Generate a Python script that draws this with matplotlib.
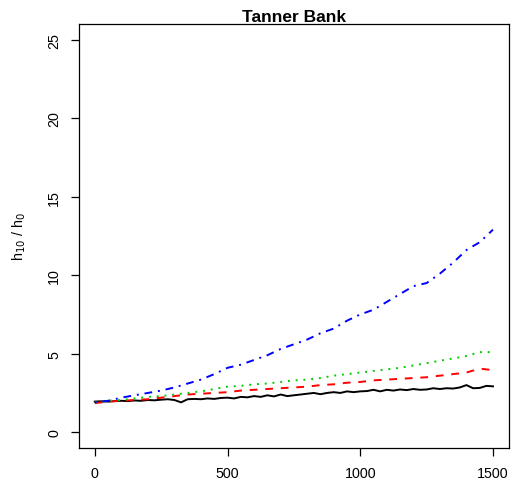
import matplotlib.pyplot as plt

plt.rcParams['font.family'] = ['Liberation Sans', 'DejaVu Sans']

# steps (every 50) for the dashed / dotted / dot-dash series
x50 = list(range(0, 1501, 50))
x25 = list(range(0, 1501, 25))

black = [1.95, 1.97, 1.95, 1.98, 2.0, 1.98, 2.02, 2.0, 2.05, 2.03, 2.07, 2.1, 2.05, 1.9,
         2.1, 2.12, 2.1, 2.15, 2.12, 2.18, 2.2, 2.15, 2.25, 2.22, 2.3, 2.25, 2.35, 2.28,
         2.4, 2.3, 2.35, 2.4, 2.45, 2.5, 2.42, 2.5, 2.55, 2.5, 2.6, 2.55, 2.6, 2.62, 2.7,
         2.6, 2.7, 2.65, 2.72, 2.68, 2.75, 2.7, 2.72, 2.8, 2.75, 2.8, 2.78, 2.85, 3.0,
         2.8, 2.82, 2.95, 2.92]
red = [1.85, 1.95, 2.0, 2.05, 2.1, 2.2, 2.3, 2.4, 2.45, 2.5, 2.55, 2.65, 2.7, 2.75, 2.8,
       2.85, 2.9, 3.0, 3.05, 3.15, 3.2, 3.3, 3.35, 3.4, 3.45, 3.5, 3.6, 3.7, 3.8, 4.05, 3.95]
green = [1.9, 2.0, 2.05, 2.15, 2.25, 2.3, 2.4, 2.5, 2.6, 2.75, 2.9, 2.95, 3.05, 3.1, 3.2,
         3.3, 3.35, 3.45, 3.6, 3.7, 3.8, 3.9, 4.0, 4.1, 4.25, 4.4, 4.55, 4.7, 4.85, 5.1, 5.1]
blue = [1.9, 2.0, 2.2, 2.35, 2.5, 2.65, 2.85, 3.1, 3.35, 3.7, 4.1, 4.3, 4.6, 4.9, 5.3,
        5.6, 5.9, 6.3, 6.6, 7.1, 7.5, 7.8, 8.3, 8.8, 9.3, 9.5, 10.1, 10.8, 11.6, 12.1, 12.9]

xticks = [0, 500, 1000, 1500]
yticks = [0, 5, 10, 15, 20, 25]

fig = plt.figure(figsize=(5.12, 4.89), dpi=100)
ax = fig.add_axes([0.154, 0.082, 0.840, 0.867])

lw = 1.4
ax.plot(x25, black, color='black', lw=lw)
ax.plot(x50, red, color='red', lw=lw, dashes=(4, 4))
ax.plot(x50, green, color='#00CD00', lw=lw, dashes=(1, 3))
ax.plot(x50, blue, color='blue', lw=lw, dashes=(1, 3, 4, 3))

ax.set_xlim(-60, 1560)
ax.set_ylim(-1.0, 26.0)
ax.set_xticks(xticks)
ax.set_yticks(yticks)
ax.set_xticklabels([str(v) for v in xticks], fontsize=10.3)
ax.set_yticklabels([str(v) for v in yticks], fontsize=10.3, rotation=90, va='center')
ax.tick_params(length=5.8, width=0.9, pad=7)
for s in ax.spines.values():
    s.set_linewidth(0.9)

ax.set_ylabel(r'h$_{10}$ / h$_0$', fontsize=10.3, labelpad=14)
ax.set_title('Tanner Bank', fontsize=12.5, fontweight='bold', pad=2)

fig.savefig('out.png', dpi=100)
